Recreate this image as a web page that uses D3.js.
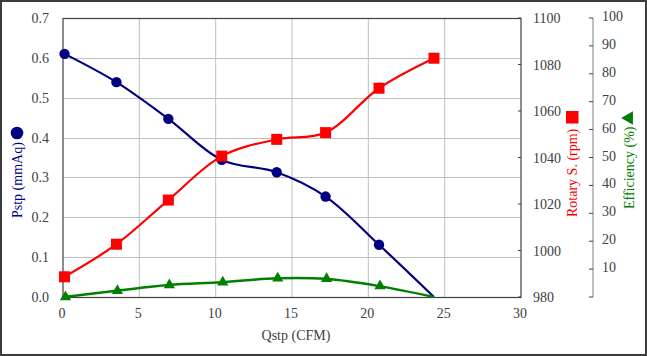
<!DOCTYPE html>
<html>
<head>
<meta charset="utf-8">
<script src="https://cdn.jsdelivr.net/npm/d3@7"></script>
<style>
  body { margin: 0; background: #fff; }
  svg { display: block; font-family: "Liberation Serif", "Times New Roman", serif; }
</style>
</head>
<body>
<svg id="chart" width="647" height="356"></svg>
<script>
// flow rate (CFM)
const qstp = [0.1, 3.5, 6.9, 10.4, 14.0, 17.2, 20.7, 24.3];
// static pressure (mmAq)
const pstp = [0.61, 0.539, 0.447, 0.344, 0.313, 0.252, 0.131, 0.0];
// rotary speed (rpm)
const rpm = [988.7, 1002.7, 1021.7, 1040.6, 1047.8, 1050.7, 1069.8, 1082.7];
// efficiency (%)
const eff = [0.0, 2.2, 4.3, 5.3, 6.7, 6.5, 3.9, 0.0];

const xTicks = [0, 5, 10, 15, 20, 25, 30];
const pTicks = [0, 0.1, 0.2, 0.3, 0.4, 0.5, 0.6, 0.7];
const rTicks = [980, 1000, 1020, 1040, 1060, 1080, 1100];
const eTicks = [0, 10, 20, 30, 40, 50, 60, 70, 80, 90, 100];

const navy = "#000080", red = "#ff0000", green = "#008000";
const frameCol = "#404040", gridCol = "#bfbfbf", txtCol = "#404040";

const m = { left: 63, right: 521, top: 18, bottom: 297 };

const svg = d3.select("#chart");

svg.append("rect")
  .attr("x", 1).attr("y", 1).attr("width", 645).attr("height", 354)
  .attr("fill", "#fff").attr("stroke", "#3c3c3c").attr("stroke-width", 2);

const x = d3.scaleLinear().domain([0, 30]).range([m.left, m.right]);
const yP = d3.scaleLinear().domain([0, 0.7]).range([m.bottom, m.top]);
const yR = d3.scaleLinear().domain([980, 1100]).range([m.bottom, m.top]);
const yE = d3.scaleLinear().domain([0, 100]).range([m.bottom, m.top]);

// grid
svg.append("g").selectAll("line")
  .data(xTicks.slice(1, -1))
  .join("line")
  .attr("x1", d => x(d)).attr("x2", d => x(d))
  .attr("y1", m.top).attr("y2", m.bottom)
  .attr("stroke", gridCol).attr("stroke-width", 1);

svg.append("g").selectAll("line")
  .data(pTicks.slice(1, -1))
  .join("line")
  .attr("y1", d => Math.round(yP(d)) + 0.5).attr("y2", d => Math.round(yP(d)) + 0.5)
  .attr("x1", m.left).attr("x2", m.right)
  .attr("stroke", gridCol).attr("stroke-width", 1);

// frame
svg.append("rect")
  .attr("x", m.left).attr("y", m.top + 0.5)
  .attr("width", m.right - m.left).attr("height", m.bottom - m.top)
  .attr("fill", "none").attr("stroke", frameCol).attr("stroke-width", 1.2);

// left axis labels
svg.append("g").selectAll("text")
  .data(pTicks)
  .join("text")
  .attr("x", 49).attr("y", d => yP(d) + 5)
  .attr("text-anchor", "end")
  .attr("font-size", 14).attr("fill", txtCol)
  .text(d => d3.format(".1f")(d));

// bottom axis labels
svg.append("g").selectAll("text")
  .data(xTicks)
  .join("text")
  .attr("x", d => x(d) - 1).attr("y", 318)
  .attr("text-anchor", "middle")
  .attr("font-size", 14).attr("fill", txtCol)
  .text(d => d);

// rpm axis: small inward ticks + labels
svg.append("g").selectAll("line")
  .data(rTicks)
  .join("line")
  .attr("x1", m.right - 3).attr("x2", m.right)
  .attr("y1", d => yR(d)).attr("y2", d => yR(d))
  .attr("stroke", frameCol);
svg.append("g").selectAll("text")
  .data(rTicks)
  .join("text")
  .attr("x", 533).attr("y", d => yR(d) + 5)
  .attr("font-size", 14).attr("fill", txtCol)
  .text(d => d);

// efficiency axis
const ex = 593;
svg.append("line")
  .attr("x1", ex).attr("x2", ex).attr("y1", m.top).attr("y2", m.bottom)
  .attr("stroke", "#7f7f7f").attr("stroke-width", 1);
svg.append("g").selectAll("line")
  .data(eTicks)
  .join("line")
  .attr("x1", ex - 4).attr("x2", ex)
  .attr("y1", d => yE(d)).attr("y2", d => yE(d))
  .attr("stroke", frameCol);
svg.append("g").selectAll("text")
  .data(eTicks.slice(1))
  .join("text")
  .attr("x", 602).attr("y", d => yE(d) + 3)
  .attr("font-size", 14).attr("fill", txtCol)
  .text(d => d);

// titles
svg.append("text")
  .attr("x", 296).attr("y", 340)
  .attr("text-anchor", "middle")
  .attr("font-size", 14).attr("fill", txtCol)
  .text("Qstp (CFM)");

function vTitle(cx, yBottom, label, color) {
  svg.append("text")
    .attr("transform", `translate(${cx},${yBottom}) rotate(-90)`)
    .attr("dy", "0.35em")
    .attr("font-size", 14).attr("fill", color)
    .text(label);
}
vTitle(17, 218, "Pstp (mmAq)", navy);
svg.append("circle").attr("cx", 17).attr("cy", 133).attr("r", 6.3).attr("fill", navy);

vTitle(572, 217, "Rotary S. (rpm)", red);
svg.append("rect").attr("x", 566).attr("y", 111).attr("width", 12.5).attr("height", 12.5).attr("fill", red);

vTitle(629, 209, "Efficiency (%)", green);
svg.append("path")
  .attr("d", d3.symbol(d3.symbolTriangle, 80)())
  .attr("transform", "translate(629,118) rotate(-90)")
  .attr("fill", green);

// series
svg.append("clipPath").attr("id", "plotclip")
  .append("rect")
  .attr("x", m.left).attr("y", m.top)
  .attr("width", m.right - m.left).attr("height", m.bottom - m.top + 1);

function drawSeries(vals, yScale, color, width, shape, nMarkers) {
  const pts = qstp.map((q, i) => [x(q), yScale(vals[i])]);
  const line = d3.line().curve(d3.curveCatmullRom.alpha(0.5));
  svg.append("path")
    .attr("d", line(pts))
    .attr("clip-path", "url(#plotclip)")
    .attr("fill", "none").attr("stroke", color).attr("stroke-width", width)
    .attr("stroke-linejoin", "round");
  const g = svg.append("g").attr("fill", color);
  const mp = pts.slice(0, nMarkers);
  if (shape === "circle") {
    g.selectAll("circle").data(mp).join("circle")
      .attr("cx", d => d[0]).attr("cy", d => d[1]).attr("r", 5.2);
  } else if (shape === "square") {
    g.selectAll("rect").data(mp).join("rect")
      .attr("x", d => d[0] - 5.5).attr("y", d => d[1] - 5.5)
      .attr("width", 11).attr("height", 11);
  } else {
    g.selectAll("path").data(mp).join("path")
      .attr("d", d3.symbol(d3.symbolTriangle, 55)())
      .attr("transform", d => `translate(${d[0] + 1},${d[1]})`);
  }
}

drawSeries(pstp, yP, navy, 2.2, "circle", 7);
drawSeries(rpm, yR, red, 2.2, "square", 8);
drawSeries(eff, yE, green, 2.5, "triangle", 7);
</script>
</body>
</html>
